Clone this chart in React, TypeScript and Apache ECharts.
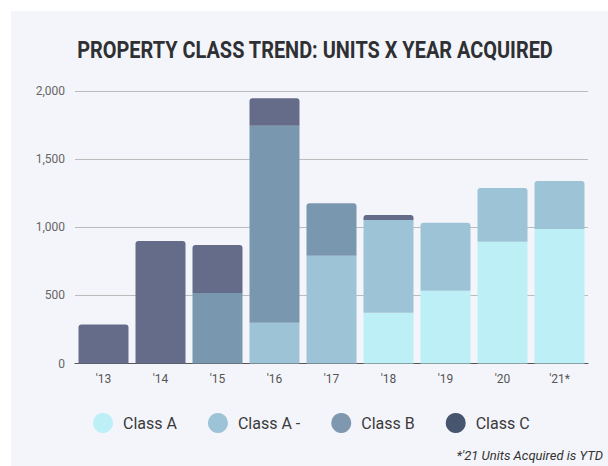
import React, { useEffect, useRef } from "react";
import * as echarts from "echarts";

const categories = ["'13", "'14", "'15", "'16", "'17", "'18", "'19", "'20", "'21*"];
const classA = [0, 0, 0, 0, 0, 373, 534, 894, 987];
const classAMinus = [0, 0, 0, 300, 791, 680, 499, 394, 352];
const classB = [0, 0, 517, 1445, 385, 0, 0, 0, 0];
const classC = [287, 899, 353, 201, 0, 37, 0, 0, 0];

const seriesNames = ["Class A", "Class A -", "Class B", "Class C"];
const barColors = ["#bdf0f6", "#9dc3d6", "#7a97b0", "#656c8a"];
const legendColors = ["#bdf0f6", "#9dc4d6", "#7f98b0", "#47566e"];
const yTicks = [0, 500, 1000, 1500, 2000];

const TITLE = "PROPERTY CLASS TREND: UNITS X YEAR ACQUIRED";
const TITLE_FONT = "bold 24px Roboto";

export default function App() {
  const ref = useRef<HTMLDivElement>(null);
  useEffect(() => {
    if (!ref.current) return;
    const chart = echarts.init(ref.current, null, { renderer: "svg" });

    let titleW = 600;
    const cv = document.createElement("canvas").getContext("2d");
    if (cv) {
      cv.font = TITLE_FONT;
      titleW = cv.measureText(TITLE).width || 600;
    }
    const scaleX = 476 / titleW;

    const all = [classA, classAMinus, classB, classC];
    const series = all.map((vals, si) => ({
      name: seriesNames[si],
      type: "bar",
      stack: "total",
      barWidth: 50,
      itemStyle: { color: barColors[si] },
      data: vals.map((v, ci) => {
        let top = -1;
        for (let k = all.length - 1; k >= 0; k--) {
          if (all[k][ci] > 0) { top = k; break; }
        }
        return top === si
          ? { value: v, itemStyle: { color: barColors[si], borderRadius: [3, 3, 0, 0] } }
          : v;
      }),
    }));
    chart.setOption({
      animation: false,
      backgroundColor: "#f4f5fa",
      textStyle: { fontFamily: "Roboto" },
      graphic: [
        {
          type: "text",
          x: 304,
          y: 38.5,
          scaleX: scaleX,
          style: {
            text: TITLE,
            fontFamily: "Roboto",
            fontWeight: "bold",
            fontSize: 24,
            fill: "#2e3033",
            align: "center",
            verticalAlign: "middle",
          },
        },
        {
          type: "text",
          x: 592,
          y: 444,
          style: {
            text: "*'21 Units Acquired is YTD",
            fontFamily: "Roboto",
            fontStyle: "italic",
            fontSize: 13,
            fill: "#333333",
            align: "right",
            verticalAlign: "middle",
          },
        },
      ],
      legend: {
        left: 77,
        top: 397,
        icon: "circle",
        itemWidth: 20,
        itemHeight: 20,
        itemGap: 31,
        textStyle: { fontSize: 16, color: "#3a3a3a", fontFamily: "Roboto", padding: [0, 0, 0, 5] },
        data: seriesNames.map((n, i) => ({ name: n, itemStyle: { color: legendColors[i] } })),
      },
      grid: { left: 64, right: 20, top: 80, height: 272.5, containLabel: false },
      xAxis: {
        type: "category",
        data: categories,
        axisTick: { show: false },
        axisLine: { lineStyle: { color: "#555555", width: 1 } },
        axisLabel: { color: "#555555", fontSize: 12, margin: 9 },
      },
      yAxis: {
        type: "value",
        min: yTicks[0],
        max: yTicks[yTicks.length - 1],
        interval: 500,
        axisLine: { show: false },
        axisTick: { show: false },
        axisLabel: {
          color: "#666666",
          fontSize: 12,
          margin: 10,
          formatter: (v: number) => v.toLocaleString("en-US"),
        },
        splitLine: { lineStyle: { color: "#bbbbbb" } },
      },
      series,
    });
    return () => chart.dispose();
  }, []);
  return (
    <div
      ref={ref}
      style={{ position: "absolute", left: 11, top: 11, width: 597, height: 455 }}
    />
  );
}
